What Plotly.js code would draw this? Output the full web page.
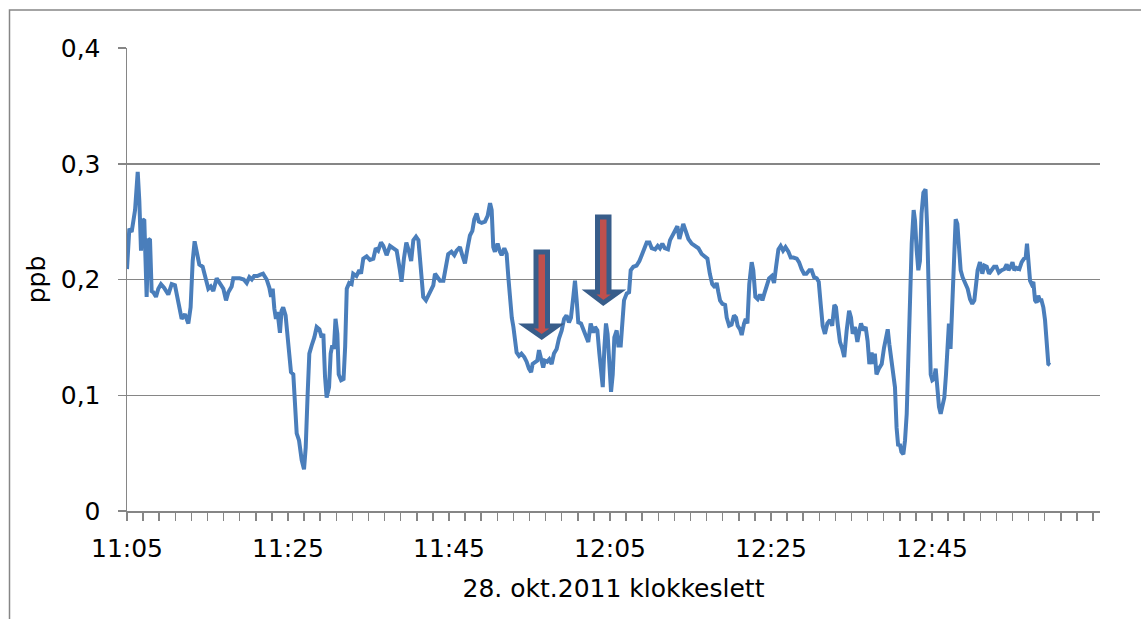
<!DOCTYPE html>
<html>
<head>
<meta charset="utf-8">
<script src="https://cdn.plot.ly/plotly-3.0.1.min.js"></script>
<style>
  html, body { margin: 0; padding: 0; background: #ffffff; }
  #chart { width: 1141px; height: 619px; }
</style>
</head>
<body>
<div id="chart"></div>
<script>
// Elapsed minutes after 11:05 (28. okt. 2011)
const minutes = [
  0, 0.29, 0.58, 0.79, 1.0, 1.33, 1.53, 1.74, 1.95, 2.15, 2.44, 2.65, 2.86, 3.06, 3.27, 3.6, 3.89, 4.22, 4.6, 5.13,
  5.55, 5.96, 6.38, 6.79, 7.2, 7.62, 7.9, 8.16, 8.4, 8.74, 8.98, 9.4, 9.69, 10.1, 10.4, 10.72, 11.14, 11.47, 11.97, 12.3,
  12.59, 13.0, 13.2, 13.6, 14.0, 14.5, 14.87, 15.2, 15.5, 15.8, 16.2, 16.5, 16.9, 17.35, 17.68, 17.9, 18.1, 18.3, 18.5, 18.7,
  19.0, 19.2, 19.4, 19.7, 19.96, 20.17, 20.37, 20.66, 20.87, 21.08, 21.37, 21.7, 21.99, 22.2, 22.44, 22.65, 22.94, 23.27, 23.56, 23.9,
  24.18, 24.39, 24.6, 24.8, 25.1, 25.3, 25.5, 25.7, 25.9, 26.13, 26.3, 26.6, 26.9, 27.1, 27.3, 27.6, 27.9, 28.1, 28.5, 28.86,
  29.07, 29.35, 29.77, 30.18, 30.6, 30.9, 31.2, 31.55, 31.84, 32.25, 32.67, 33.08, 33.5, 33.9, 34.1, 34.4, 34.7, 35.0, 35.3, 35.57,
  35.9, 36.2, 36.5, 36.8, 37.14, 37.43, 37.76, 38.05, 38.26, 38.55, 38.88, 39.3, 39.6, 39.9, 40.3, 40.66, 40.95, 41.36, 41.65, 41.98,
  42.3, 42.6, 42.9, 43.14, 43.43, 43.7, 44.05, 44.47, 44.8, 45.1, 45.3, 45.5, 45.7, 46.04, 46.33, 46.54, 46.87, 47.16, 47.37, 47.58,
  47.8, 48.0, 48.2, 48.4, 48.7, 49.0, 49.35, 49.64, 49.93, 50.2, 50.39, 50.68, 50.97, 51.18, 51.4, 51.7, 51.9, 52.2, 52.46, 52.75,
  53.04, 53.37, 53.66, 54.0, 54.3, 54.6, 54.9, 55.15, 55.44, 55.65, 55.86, 56.06, 56.4, 56.68, 57.0, 57.3, 57.6, 57.93, 58.14, 58.43,
  58.68, 58.89, 59.1, 59.3, 59.5, 59.7, 59.92, 60.13, 60.34, 60.54, 60.83, 61.04, 61.33, 61.54, 61.74, 62.08, 62.37, 62.57, 62.9, 63.3,
  63.65, 63.94, 64.23, 64.56, 64.9, 65.18, 65.6, 65.93, 66.2, 66.5, 66.8, 67.2, 67.46, 67.8, 68.08, 68.37, 68.62, 68.9, 69.1, 69.4,
  69.74, 70.15, 70.56, 70.98, 71.39, 71.8, 72.1, 72.4, 72.7, 73.05, 73.25, 73.46, 73.67, 73.96, 74.3, 74.5, 74.8, 75.1, 75.4, 75.66,
  75.86, 76.15, 76.36, 76.65, 76.86, 77.07, 77.3, 77.6, 77.8, 78.06, 78.35, 78.64, 78.93, 79.18, 79.47, 79.76, 80.1, 80.38, 80.63, 80.92,
  81.2, 81.5, 81.8, 82.16, 82.45, 82.78, 83.2, 83.48, 83.8, 84.1, 84.4, 84.76, 85.05, 85.35, 85.68, 85.93, 86.17, 86.42, 86.7, 87.0,
  87.33, 87.6, 87.87, 88.07, 88.28, 88.57, 88.86, 89.1, 89.4, 89.7, 89.94, 90.15, 90.44, 90.73, 90.98, 91.18, 91.47, 91.76, 92.0, 92.22,
  92.5, 92.7, 92.9, 93.1, 93.4, 93.75, 94.04, 94.25, 94.5, 94.7, 94.9, 95.2, 95.4, 95.6, 95.8, 96.0, 96.2, 96.44, 96.65, 96.86,
  97.06, 97.27, 97.48, 97.72, 97.89, 98.1, 98.3, 98.5, 98.7, 98.93, 99.2, 99.4, 99.63, 99.84, 100.04, 100.25, 100.46, 100.66, 100.87, 101.08,
  101.33, 101.53, 101.74, 101.95, 102.1, 102.3, 102.53, 102.74, 102.94, 103.15, 103.36, 103.56, 103.8, 104.1, 104.43, 104.72, 105.0, 105.26, 105.47, 105.67,
  105.96, 106.25, 106.5, 106.8, 107.08, 107.4, 107.7, 108.0, 108.3, 108.66, 108.99, 109.28, 109.5, 109.77, 110.0, 110.23, 110.5, 110.85, 111.14, 111.43,
  111.64, 111.8, 111.97, 112.18, 112.38, 112.59, 112.8, 113.0, 113.2, 113.42, 113.6, 113.83, 114.04, 114.25, 114.45, 114.66
];

// Measured concentration (ppb)
const ppb = [
  0.209, 0.244, 0.241, 0.251, 0.26, 0.293, 0.268, 0.225, 0.252, 0.251, 0.185, 0.235, 0.234, 0.19, 0.189, 0.185, 0.192, 0.196, 0.193, 0.187,
  0.196, 0.195, 0.179, 0.166, 0.170, 0.162, 0.176, 0.216, 0.233, 0.222, 0.213, 0.211, 0.203, 0.192, 0.194, 0.19, 0.201, 0.198, 0.192, 0.182,
  0.189, 0.194, 0.201, 0.201, 0.201, 0.2, 0.197, 0.202, 0.2, 0.203, 0.203, 0.204, 0.205, 0.2, 0.193, 0.185, 0.192, 0.175, 0.166, 0.172,
  0.154, 0.173, 0.176, 0.169, 0.150, 0.127, 0.120, 0.118, 0.095, 0.067, 0.061, 0.044, 0.036, 0.055, 0.101, 0.136, 0.143, 0.15, 0.159, 0.157,
  0.15, 0.153, 0.116, 0.098, 0.107, 0.136, 0.143, 0.14, 0.166, 0.153, 0.118, 0.113, 0.114, 0.142, 0.192, 0.197, 0.196, 0.205, 0.203, 0.208,
  0.205, 0.218, 0.22, 0.217, 0.218, 0.227, 0.225, 0.232, 0.229, 0.221, 0.229, 0.227, 0.225, 0.208, 0.198, 0.218, 0.232, 0.225, 0.216, 0.234,
  0.237, 0.234, 0.208, 0.185, 0.182, 0.186, 0.192, 0.195, 0.205, 0.202, 0.199, 0.199, 0.211, 0.222, 0.224, 0.221, 0.225, 0.228, 0.221, 0.214,
  0.227, 0.238, 0.242, 0.252, 0.257, 0.25, 0.249, 0.25, 0.255, 0.266, 0.26, 0.228, 0.224, 0.231, 0.224, 0.221, 0.227, 0.222, 0.202, 0.179,
  0.167, 0.159, 0.144, 0.137, 0.134, 0.136, 0.133, 0.129, 0.123, 0.12, 0.127, 0.129, 0.130, 0.139, 0.133, 0.124, 0.130, 0.129, 0.131, 0.127,
  0.136, 0.14, 0.149, 0.156, 0.166, 0.169, 0.163, 0.167, 0.185, 0.199, 0.182, 0.163, 0.162, 0.157, 0.152, 0.146, 0.162, 0.154, 0.159, 0.156,
  0.136, 0.118, 0.107, 0.141, 0.162, 0.153, 0.124, 0.103, 0.118, 0.15, 0.156, 0.143, 0.143, 0.162, 0.182, 0.188, 0.189, 0.208, 0.211, 0.212,
  0.216, 0.221, 0.227, 0.232, 0.232, 0.227, 0.226, 0.229, 0.227, 0.231, 0.227, 0.226, 0.234, 0.238, 0.241, 0.246, 0.235, 0.241, 0.248, 0.242,
  0.235, 0.231, 0.229, 0.227, 0.222, 0.219, 0.218, 0.205, 0.196, 0.193, 0.197, 0.189, 0.182, 0.179, 0.178, 0.167, 0.16, 0.161, 0.169, 0.167,
  0.16, 0.157, 0.152, 0.162, 0.166, 0.162, 0.196, 0.215, 0.208, 0.185, 0.183, 0.187, 0.182, 0.188, 0.196, 0.201, 0.203, 0.197, 0.211, 0.226,
  0.229, 0.225, 0.228, 0.224, 0.219, 0.219, 0.218, 0.215, 0.209, 0.205, 0.205, 0.208, 0.208, 0.202, 0.201, 0.198, 0.179, 0.16, 0.153, 0.162,
  0.165, 0.16, 0.178, 0.176, 0.162, 0.146, 0.14, 0.133, 0.156, 0.173, 0.167, 0.153, 0.159, 0.146, 0.156, 0.162, 0.156, 0.159, 0.147, 0.127,
  0.137, 0.127, 0.136, 0.118, 0.123, 0.127, 0.141, 0.150, 0.157, 0.144, 0.133, 0.121, 0.107, 0.072, 0.056, 0.058, 0.051, 0.049, 0.061, 0.084,
  0.13, 0.188, 0.231, 0.26, 0.251, 0.225, 0.208, 0.216, 0.257, 0.275, 0.278, 0.245, 0.188, 0.118, 0.113, 0.114, 0.123, 0.107, 0.09, 0.084,
  0.093, 0.098, 0.118, 0.153, 0.162, 0.14, 0.188, 0.231, 0.252, 0.248, 0.219, 0.208, 0.202, 0.198, 0.192, 0.183, 0.179, 0.182, 0.196, 0.208,
  0.215, 0.205, 0.212, 0.211, 0.205, 0.209, 0.211, 0.211, 0.206, 0.208, 0.209, 0.213, 0.208, 0.211, 0.215, 0.208, 0.21, 0.209, 0.215, 0.218,
  0.219, 0.231, 0.219, 0.199, 0.196, 0.198, 0.182, 0.18, 0.186, 0.182, 0.182, 0.176, 0.165, 0.141, 0.127, 0.126
];

const xTickMinutes = [0, 20, 40, 60, 80, 100];
const xTickLabels = ["11:05", "11:25", "11:45", "12:05", "12:25", "12:45"];
const yTickValues = [0, 0.1, 0.2, 0.3, 0.4];
const yTickLabels = ["0", "0,1", "0,2", "0,3", "0,4"];

const xAxisTitle = "28. okt.2011 klokkeslett";
const yAxisTitle = "ppb";

// ---- layout geometry (pixels) ----
const W = 1141, H = 619;
const L = 127, R = 1100, T = 48, B = 511;
const PW = R - L, PH = B - T;
function pt(x, y) { return ((x - L) / PW).toFixed(5) + ',' + ((B - y) / PH).toFixed(5); }
function arrowPath(a) {
  return 'M' + pt(a.xl, a.top) + ' L' + pt(a.xr, a.top) + ' L' + pt(a.xr, a.base) +
         ' L' + pt(a.hr, a.base) + ' L' + pt(a.tx, a.tip) + ' L' + pt(a.hl, a.base) +
         ' L' + pt(a.xl, a.base) + ' Z';
}
const arrowGeom = [
  { xl: 536, xr: 547.5, top: 252, base: 326, hl: 526, hr: 557, tx: 541.7, tip: 337 },
  { xl: 597.5, xr: 609, top: 217, base: 292, hl: 589, hr: 618.5, tx: 603.3, tip: 303 }
];

const FONT = "DejaVu Sans, Verdana, sans-serif";
const GREY = "#868686";

const shapes = arrowGeom.map(a => ({
  type: 'path', xref: 'paper', yref: 'paper', path: arrowPath(a),
  fillcolor: '#C0504D', line: { color: '#385D8A', width: 5 }, layer: 'above'
}));
shapes.push({
  type: 'rect', xref: 'paper', yref: 'paper',
  x0: (9.5 - L) / PW, x1: (1400 - L) / PW, y0: (B - 10) / PH, y1: (B - 900) / PH,
  line: { color: GREY, width: 1.5 }, layer: 'below'
});

const trace = {
  x: minutes, y: ppb, type: 'scatter', mode: 'lines',
  line: { color: '#4A7EBB', width: 4 },
  hoverinfo: 'skip', showlegend: false
};

const layout = {
  width: W, height: H,
  margin: { l: L, r: W - R, t: T, b: H - B, pad: 0 },
  paper_bgcolor: '#ffffff', plot_bgcolor: '#ffffff',
  font: { family: FONT, size: 25, color: '#000000' },
  showlegend: false,
  xaxis: {
    range: [0, (R - L) / 8.05],
    tickmode: 'array', tickvals: xTickMinutes, ticktext: xTickLabels,
    ticks: 'outside', ticklen: 8, tickwidth: 1.5, tickcolor: GREY,
    minor: { tickmode: 'linear', tick0: 0, dtick: 2, ticks: 'outside', ticklen: 8, tickwidth: 1.5, tickcolor: GREY, showgrid: false },
    showline: true, linecolor: GREY, linewidth: 1.5,
    showgrid: false, zeroline: false, automargin: false,
    tickfont: { family: FONT, size: 25, color: '#000' },
    ticklabelstandoff: 6,
    title: { text: xAxisTitle, font: { family: FONT, size: 25, color: '#000' }, standoff: 18 }
  },
  yaxis: {
    range: [0, 0.4],
    tickmode: 'array', tickvals: yTickValues, ticktext: yTickLabels,
    ticks: 'outside', ticklen: 8, tickwidth: 1.5, tickcolor: GREY,
    showline: true, linecolor: GREY, linewidth: 1.5,
    showgrid: true, gridcolor: GREY, gridwidth: 1.5, zeroline: false, automargin: false,
    tickfont: { family: FONT, size: 25, color: '#000' },
    ticklabelstandoff: 12,
    title: { text: yAxisTitle, font: { family: FONT, size: 25, color: '#000' }, standoff: 8 }
  },
  shapes: shapes
};

Plotly.newPlot('chart', [trace], layout, { staticPlot: true, displayModeBar: false });
</script>
</body>
</html>
